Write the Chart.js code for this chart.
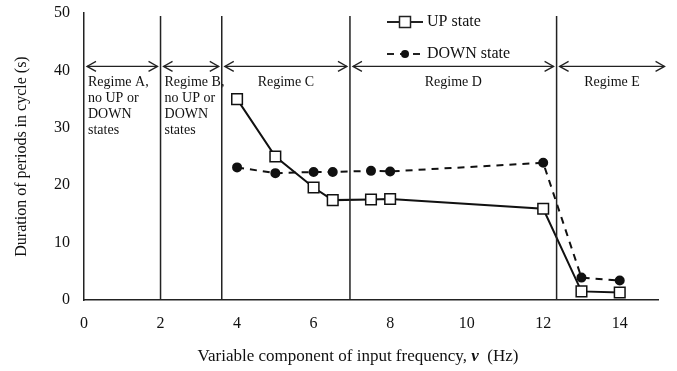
<!DOCTYPE html>
<html>
<head>
<meta charset="utf-8">
<script src="https://cdn.jsdelivr.net/npm/chart.js@4"></script>
<style>
  body { margin: 0; background: #fff; }
</style>
</head>
<body>
<canvas id="myChart" width="677" height="371"></canvas>
<script>
// frequency values (Hz)
const freqs = [4, 5, 6, 6.5, 7.5, 8, 12, 13, 14];
// durations (s)
const upState = [35, 25, 19.6, 17.4, 17.5, 17.6, 15.9, 1.5, 1.3];
const downState = [23.1, 22.1, 22.3, 22.3, 22.5, 22.4, 23.9, 3.9, 3.4];

// regime boundaries along the frequency axis
const regimeBounds = [0, 2, 3.6, 6.95, 12.35, 15.25];
const regimeNames = [
    ['Regime A,', 'no UP or', 'DOWN', 'states'],
    ['Regime B,', 'no UP or', 'DOWN', 'states'],
    ['Regime C'],
    ['Regime D'],
    ['Regime E']
];
const arrowLevel = 40.7;

const serif = '"Liberation Serif", "Times New Roman", serif';

function arrowHead(ctx, x, y, dir) {
    ctx.beginPath();
    ctx.moveTo(x + dir * 9, y - 5);
    ctx.lineTo(x, y);
    ctx.lineTo(x + dir * 9, y + 5);
    ctx.stroke();
}

// vertical regime lines, arrows, labels, legend and x title
const regimePlugin = {
    id: 'regimes',
    afterDatasetsDraw(chart) {
        const ctx = chart.ctx;
        const xs = chart.scales.x;
        const ys = chart.scales.y;
        const area = chart.chartArea;
        ctx.save();
        ctx.strokeStyle = '#222';
        ctx.lineWidth = 1.5;
        for (let i = 1; i < regimeBounds.length - 1; i++) {
            const px = xs.getPixelForValue(regimeBounds[i]);
            ctx.beginPath();
            ctx.moveTo(px, area.top + 3);
            ctx.lineTo(px, area.bottom);
            ctx.stroke();
        }
        const ay = ys.getPixelForValue(arrowLevel);
        ctx.lineWidth = 1.3;
        ctx.fillStyle = '#111';
        for (let i = 0; i < regimeBounds.length - 1; i++) {
            const x1 = xs.getPixelForValue(regimeBounds[i]) + 3;
            const x2 = xs.getPixelForValue(regimeBounds[i + 1]) - 3;
            ctx.beginPath();
            ctx.moveTo(x1, ay);
            ctx.lineTo(x2, ay);
            ctx.stroke();
            arrowHead(ctx, x1, ay, 1);
            arrowHead(ctx, x2, ay, -1);

            const lines = regimeNames[i];
            ctx.font = '14px ' + serif;
            ctx.textBaseline = 'middle';
            if (lines.length > 1) {
                ctx.textAlign = 'left';
                lines.forEach((t, k) => ctx.fillText(t, x1 + 1, ay + 16 + k * 16));
            } else {
                ctx.textAlign = 'center';
                ctx.fillText(lines[0], (x1 + x2) / 2, ay + 16);
            }
        }

        // legend
        const lx = 387, lw = 36;
        ctx.font = '16px ' + serif;
        ctx.textAlign = 'left';
        ctx.lineWidth = 2;
        ctx.setLineDash([]);
        ctx.beginPath();
        ctx.moveTo(lx, 22);
        ctx.lineTo(lx + lw, 22);
        ctx.stroke();
        ctx.fillStyle = '#fff';
        ctx.lineWidth = 1.5;
        ctx.fillRect(lx + lw / 2 - 5.5, 16.5, 11, 11);
        ctx.strokeRect(lx + lw / 2 - 5.5, 16.5, 11, 11);
        ctx.fillStyle = '#111';
        ctx.fillText('UP state', lx + lw + 4, 22);

        ctx.lineWidth = 2;
        ctx.setLineDash([7, 6]);
        ctx.beginPath();
        ctx.moveTo(lx, 54);
        ctx.lineTo(lx + lw, 54);
        ctx.stroke();
        ctx.setLineDash([]);
        ctx.beginPath();
        ctx.arc(lx + lw / 2, 54, 4, 0, Math.PI * 2);
        ctx.fill();
        ctx.fillText('DOWN state', lx + lw + 4, 54);

        // x axis title with italic symbol
        const t1 = 'Variable component of input frequency, ';
        const t2 = 'v';
        const t3 = '  (Hz)';
        const fs = 17;
        ctx.font = fs + 'px ' + serif;
        const w1 = ctx.measureText(t1).width;
        const w3 = ctx.measureText(t3).width;
        ctx.font = 'italic bold ' + fs + 'px ' + serif;
        const w2 = ctx.measureText(t2).width;
        let tx = 358 - (w1 + w2 + w3) / 2;
        const ty = 357;
        ctx.font = fs + 'px ' + serif;
        ctx.fillText(t1, tx, ty);
        ctx.font = 'italic bold ' + fs + 'px ' + serif;
        ctx.fillText(t2, tx + w1, ty);
        ctx.font = fs + 'px ' + serif;
        ctx.fillText(t3, tx + w1 + w2, ty);
        ctx.restore();
    }
};

const ctx = document.getElementById('myChart').getContext('2d');

const myChart = new Chart(ctx, {
    type: 'line',
    data: {
        datasets: [{
            label: 'UP state',
            data: freqs.map((f, i) => ({ x: f, y: upState[i] })),
            borderColor: '#111',
            borderWidth: 2,
            pointStyle: 'rect',
            pointRadius: 7.5,
            pointBackgroundColor: '#fff',
            pointBorderColor: '#111',
            pointBorderWidth: 1.5,
            tension: 0
        }, {
            label: 'DOWN state',
            data: freqs.map((f, i) => ({ x: f, y: downState[i] })),
            borderColor: '#111',
            borderWidth: 2,
            borderDash: [7, 6],
            pointStyle: 'circle',
            pointRadius: 4,
            pointBackgroundColor: '#111',
            pointBorderColor: '#111',
            tension: 0
        }]
    },
    options: {
        responsive: false,
        animation: false,
        devicePixelRatio: 1,
        layout: { padding: { top: 13, right: 19, left: 0, bottom: 0 } },
        plugins: {
            legend: { display: false },
            tooltip: { enabled: false }
        },
        scales: {
            x: {
                type: 'linear',
                min: 0,
                max: 15,
                afterFit(scale) {
                    scale.height = 71;
                    scale.paddingLeft = 0;
                    scale.paddingRight = 0;
                },
                afterBuildTicks(scale) {
                    scale.ticks = [0, 2, 4, 6, 8, 10, 12, 14].map(v => ({ value: v }));
                },
                grid: { display: false, drawTicks: false },
                border: { display: true, color: '#222', width: 1.5 },
                ticks: {
                    padding: 14,
                    color: '#111',
                    font: { family: serif, size: 16 }
                }
            },
            y: {
                min: 0,
                max: 50,
                afterFit(scale) {
                    scale.width = 84;
                    scale.paddingTop = 0;
                    scale.paddingBottom = 0;
                },
                grid: { display: false, drawTicks: false },
                border: { display: true, color: '#222', width: 1.5 },
                ticks: {
                    stepSize: 10,
                    padding: 14,
                    color: '#111',
                    font: { family: serif, size: 16 }
                },
                title: {
                    display: true,
                    text: 'Duration of periods in cycle (s)',
                    color: '#111',
                    font: { family: serif, size: 16 },
                    padding: { top: 12, bottom: 0 }
                }
            }
        }
    },
    plugins: [regimePlugin]
});
</script>
</body>
</html>
